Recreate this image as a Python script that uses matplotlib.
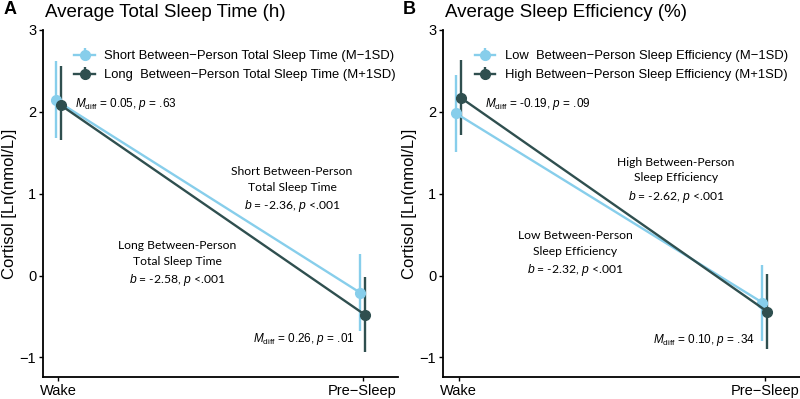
import matplotlib
matplotlib.use("Agg")
import matplotlib.pyplot as plt

plt.rcParams['font.family'] = ['Liberation Sans', 'DejaVu Sans']
plt.rcParams['mathtext.fontset'] = 'custom'
plt.rcParams['mathtext.rm'] = 'Liberation Sans'
plt.rcParams['mathtext.it'] = 'Liberation Sans:italic'

# data
times = ["Wake", "Pre\u2212Sleep"]

tst_short = [2.14, -0.21]
tst_short_lo = [1.68, -0.68]
tst_short_hi = [2.62, 0.26]
tst_long = [2.08, -0.48]
tst_long_lo = [1.66, -0.93]
tst_long_hi = [2.56, -0.02]

se_low = [1.98, -0.33]
se_low_lo = [1.51, -0.80]
se_low_hi = [2.45, 0.13]
se_high = [2.17, -0.44]
se_high_lo = [1.72, -0.90]
se_high_hi = [2.63, 0.02]

LIGHT = '#87CEEB'
DARK = '#2F4F4F'
ANN_FONT = ['Lato', 'DejaVu Sans']

fig = plt.figure(figsize=(8, 3.99), dpi=100)
axA = fig.add_axes([0.054, 0.055, 0.443, 0.87])
axB = fig.add_axes([0.554, 0.055, 0.446, 0.87])


def draw(ax, lo_vals, lo_lo, lo_hi, hi_vals, hi_lo, hi_hi, lab1, lab2):
    x = [1, 2]
    d = 0.008
    for vals, lo, hi, col, lab, off in [(lo_vals, lo_lo, lo_hi, LIGHT, lab1, -d),
                                         (hi_vals, hi_lo, hi_hi, DARK, lab2, d)]:
        xs = [xi + off for xi in x]
        yerr = [[v - l for v, l in zip(vals, lo)], [h - v for v, h in zip(vals, hi)]]
        ax.errorbar(xs, vals, yerr=yerr, fmt='-o', color=col, ms=7, lw=1.7,
                    elinewidth=1.7, capsize=0, label=lab)
    ax.set_xlim(0.95, 2.115)
    ax.set_ylim(-1.24, 3.0)
    ax.set_xticks(x)
    ax.set_xticklabels(times, fontsize=10.5)
    ax.set_yticks([-1, 0, 1, 2, 3])
    ax.set_yticklabels(['\u22121', '0', '1', '2', '3'], fontsize=10.5)
    for s in ['top', 'right']:
        ax.spines[s].set_visible(False)
    for s in ['left', 'bottom']:
        ax.spines[s].set_linewidth(1.3)
    ax.tick_params(length=3, width=1, pad=2)
    ax.set_ylabel('Cortisol [Ln(nmol/L)]', fontsize=12, labelpad=2)
    ax.legend(loc='upper left', bbox_to_anchor=(0.055, 0.975), frameon=False,
              fontsize=9.4, handlelength=1.6, handletextpad=0.7, labelspacing=0.5)


draw(axA, tst_short, tst_short_lo, tst_short_hi, tst_long, tst_long_lo, tst_long_hi,
     'Short Between\u2212Person Total Sleep Time (M\u22121SD)',
     'Long  Between\u2212Person Total Sleep Time (M+1SD)')
draw(axB, se_low, se_low_lo, se_low_hi, se_high, se_high_lo, se_high_hi,
     'Low  Between\u2212Person Sleep Efficiency (M\u22121SD)',
     'High Between\u2212Person Sleep Efficiency (M+1SD)')

# titles and panel letters
fig.text(0.004, 0.975, 'A', fontsize=13, fontweight='bold', va='center')
fig.text(0.056, 0.968, 'Average Total Sleep Time (h)', fontsize=13.5, va='center')
fig.text(0.504, 0.975, 'B', fontsize=13, fontweight='bold', va='center')
fig.text(0.556, 0.968, 'Average Sleep Efficiency (%)', fontsize=13.5, va='center')


def note(ax, x, y, txt):
    ax.text(x, y, txt, fontsize=8.7, ha='center', va='center', family=ANN_FONT,
            linespacing=1.5)


# annotations panel A
axA.text(1.055, 2.09, r'$M_{\rm diff}$ = 0.05, $p$ = .63', fontsize=8.5, va='center')
axA.text(1.64, -0.78, r'$M_{\rm diff}$ = 0.26, $p$ = .01', fontsize=8.5, va='center')
note(axA, 1.768, 1.04, 'Short Between-Person\nTotal Sleep Time\n' + r'$b$ = -2.36, $p$ <.001')
note(axA, 1.39, 0.14, 'Long Between-Person\nTotal Sleep Time\n' + r'$b$ = -2.58, $p$ <.001')

# annotations panel B
axB.text(1.085, 2.09, r'$M_{\rm diff}$ = -0.19, $p$ = .09', fontsize=8.5, va='center')
axB.text(1.635, -0.79, r'$M_{\rm diff}$ = 0.10, $p$ = .34', fontsize=8.5, va='center')
note(axB, 1.71, 1.16, 'High Between-Person\nSleep Efficiency\n' + r'$b$ = -2.62, $p$ <.001')
note(axB, 1.38, 0.26, 'Low Between-Person\nSleep Efficiency\n' + r'$b$ = -2.32, $p$ <.001')

fig.savefig('out.png', dpi=100)
